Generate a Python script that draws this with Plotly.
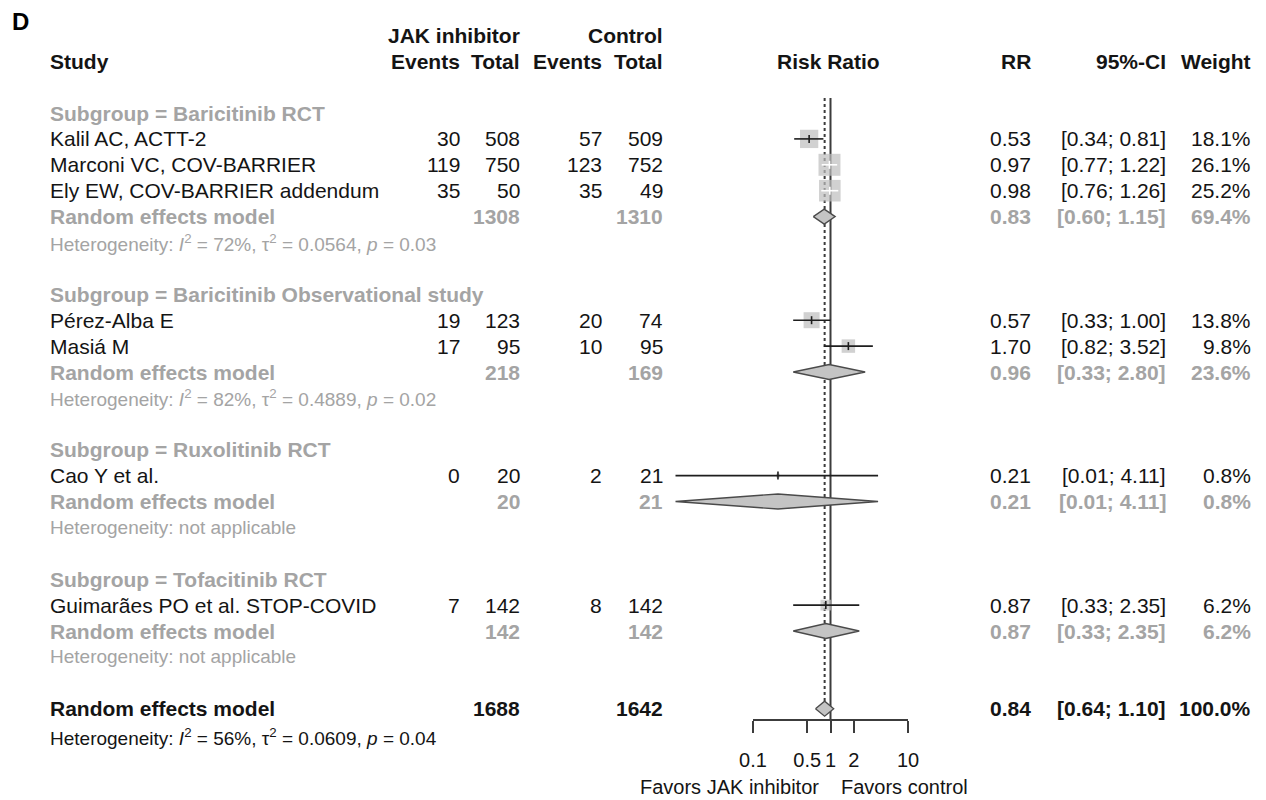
import math
import plotly.graph_objects as go

# ---------------- data ----------------
subgroup_names = ["Baricitinib RCT", "Baricitinib Observational study", "Ruxolitinib RCT", "Tofacitinib RCT"]
study_names = ["Kalil AC, ACTT-2", "Marconi VC, COV-BARRIER", "Ely EW, COV-BARRIER addendum",
               "Pérez-Alba E", "Masiá M", "Cao Y et al.", "Guimarães PO et al. STOP-COVID"]
study_group = [0, 0, 0, 1, 1, 2, 3]
jak_events = [30, 119, 35, 19, 17, 0, 7]
jak_total = [508, 750, 50, 123, 95, 20, 142]
ctl_events = [57, 123, 35, 20, 10, 2, 8]
ctl_total = [509, 752, 49, 74, 95, 21, 142]
study_rr = [0.53, 0.97, 0.98, 0.57, 1.70, 0.21, 0.87]
study_lo = [0.34, 0.77, 0.76, 0.33, 0.82, 0.01, 0.33]
study_hi = [0.81, 1.22, 1.26, 1.00, 3.52, 4.11, 2.35]
study_weight = [18.1, 26.1, 25.2, 13.8, 9.8, 0.8, 6.2]

sub_jak_total = [1308, 218, 20, 142]
sub_ctl_total = [1310, 169, 21, 142]
sub_rr = [0.83, 0.96, 0.21, 0.87]
sub_lo = [0.60, 0.33, 0.01, 0.33]
sub_hi = [1.15, 2.80, 4.11, 2.35]
sub_weight = [69.4, 23.6, 0.8, 6.2]
sub_i2 = ["72%", "82%", None, None]
sub_tau2 = ["0.0564", "0.4889", None, None]
sub_p = ["0.03", "0.02", None, None]

overall_jak_total = 1688
overall_ctl_total = 1642
overall_rr = 0.84
overall_lo = 0.64
overall_hi = 1.10
overall_weight = 100.0
overall_i2 = "56%"
overall_tau2 = "0.0609"
overall_p = "0.04"

axis_ticks = [0.1, 0.5, 1, 2, 10]
axis_ticktext = ["0.1", "0.5", "1", "2", "10"]

# ---------------- layout constants ----------------
W, H = 1266, 800
ROW0_PX, ROW_PX = 113.0, 25.9
ONE_PX, DEC_PX = 830.5, 77.5
FONT = "Liberation Sans, Arial, sans-serif"
BLACK = "#141414"
GRAY = "#a4a4a4"
FS = 21
FS_HET = 19

COL_STUDY = 48
COL_JEV, COL_JTOT, COL_CEV, COL_CTOT = 462, 522, 604, 665
COL_RR, COL_CI, COL_W = 1033, 1168, 1253

annotations = []


def txt(px, row, text, anchor="right", color=BLACK, size=FS, bold=False, yref="y"):
    if bold:
        text = "<b>" + text + "</b>"
    annotations.append(dict(x=px / W, xref="paper", y=row, yref=yref, text=text,
                            xanchor=anchor, yanchor="middle", showarrow=False,
                            font=dict(family=FONT, size=size, color=color)))


def het_text(i2, tau2, p):
    if i2 is None:
        return "Heterogeneity: not applicable"
    return ("Heterogeneity: <i>I</i><sup>2</sup> = " + i2 + ", τ<sup>2</sup> = " + tau2 +
            ", <i>p</i> = " + p)


def ci_text(lo, hi):
    return "[%.2f; %.2f]" % (lo, hi)


# ---------------- build rows ----------------
study_rows = []
diamonds = []  # (row, rr, lo, hi)
row = 0
for g, gname in enumerate(subgroup_names):
    txt(COL_STUDY, row, "Subgroup = " + gname, anchor="left", color=GRAY, bold=True)
    row += 1
    for i in range(len(study_names)):
        if study_group[i] != g:
            continue
        txt(COL_STUDY, row, study_names[i], anchor="left")
        txt(COL_JEV, row, str(jak_events[i]))
        txt(COL_JTOT, row, str(jak_total[i]))
        txt(COL_CEV, row, str(ctl_events[i]))
        txt(COL_CTOT, row, str(ctl_total[i]))
        txt(COL_RR, row, "%.2f" % study_rr[i])
        txt(COL_CI, row, ci_text(study_lo[i], study_hi[i]))
        txt(COL_W, row, "%.1f%%" % study_weight[i])
        study_rows.append((i, row))
        row += 1
    txt(COL_STUDY, row, "Random effects model", anchor="left", color=GRAY, bold=True)
    txt(COL_JTOT, row, str(sub_jak_total[g]), color=GRAY, bold=True)
    txt(COL_CTOT, row, str(sub_ctl_total[g]), color=GRAY, bold=True)
    txt(COL_RR, row, "%.2f" % sub_rr[g], color=GRAY, bold=True)
    txt(COL_CI, row, ci_text(sub_lo[g], sub_hi[g]), color=GRAY, bold=True)
    txt(COL_W, row, "%.1f%%" % sub_weight[g], color=GRAY, bold=True)
    diamonds.append((row, sub_rr[g], sub_lo[g], sub_hi[g]))
    row += 1
    txt(COL_STUDY, row, het_text(sub_i2[g], sub_tau2[g], sub_p[g]), anchor="left",
        color=GRAY, size=FS_HET)
    row += 2

overall_row = row
txt(COL_STUDY, row, "Random effects model", anchor="left", bold=True)
txt(COL_JTOT, row, str(overall_jak_total), bold=True)
txt(COL_CTOT, row, str(overall_ctl_total), bold=True)
txt(COL_RR, row, "%.2f" % overall_rr, bold=True)
txt(COL_CI, row, ci_text(overall_lo, overall_hi), bold=True)
txt(COL_W, row, "%.1f%%" % overall_weight, bold=True)
diamonds.append((row, overall_rr, overall_lo, overall_hi))
txt(COL_STUDY, row + 1.09, het_text(overall_i2, overall_tau2, overall_p), anchor="left",
    size=FS_HET)

# headers
txt(COL_JTOT, -3, "JAK inhibitor", bold=True)
txt(COL_CTOT, -3, "Control", bold=True)
txt(COL_STUDY, -2, "Study", anchor="left", bold=True)
txt(COL_JEV, -2, "Events", bold=True)
txt(COL_JTOT, -2, "Total", bold=True)
txt(COL_CEV, -2, "Events", bold=True)
txt(COL_CTOT, -2, "Total", bold=True)
txt(828, -2, "Risk Ratio", anchor="center", bold=True)
txt(COL_RR, -2, "RR", bold=True)
txt(COL_CI, -2, "95%-CI", bold=True)
txt(COL_W, -2, "Weight", bold=True)

# panel letter and axis labels
annotations.append(dict(x=10 / W, xref="paper", y=1 - 22 / H, yref="paper", text="<b>D</b>",
                        xanchor="left", yanchor="middle", showarrow=False,
                        font=dict(family=FONT, size=24, color="#000000")))
annotations.append(dict(x=821 / W, xref="paper", y=1 - 787 / H, yref="paper",
                        text="Favors JAK inhibitor", xanchor="right", yanchor="middle",
                        showarrow=False, font=dict(family=FONT, size=20, color=BLACK)))
annotations.append(dict(x=839 / W, xref="paper", y=1 - 787 / H, yref="paper",
                        text="Favors control", xanchor="left", yanchor="middle",
                        showarrow=False, font=dict(family=FONT, size=20, color=BLACK)))

# ---------------- forest traces ----------------
fig = go.Figure()
line_top = (98 - ROW0_PX) / ROW_PX
line_bottom = (720 - ROW0_PX) / ROW_PX
dot_bottom = (716 - ROW0_PX) / ROW_PX

# reference lines (drawn first)
fig.add_trace(go.Scatter(x=[overall_rr, overall_rr], y=[line_top, dot_bottom], mode="lines",
                         line=dict(color="#3c3c3c", width=2, dash="dot"),
                         hoverinfo="skip", showlegend=False))
fig.add_trace(go.Scatter(x=[1, 1], y=[line_top, line_bottom], mode="lines",
                         line=dict(color="#3c3c3c", width=2),
                         hoverinfo="skip", showlegend=False))

# squares
sq_x, sq_y, sq_s = [], [], []
for i, r in study_rows:
    sq_x.append(study_rr[i])
    sq_y.append(r)
    sq_s.append(4.3 * math.sqrt(study_weight[i]))
fig.add_trace(go.Scatter(x=sq_x, y=sq_y, mode="markers",
                         marker=dict(symbol="square", size=sq_s, color="#bdbdbd",
                                     line=dict(width=0)),
                         hoverinfo="skip", showlegend=False))

# CI lines + estimate ticks (white when the CI lies inside the box)
tick_half = 4.0 / ROW_PX
black_x, black_y, white_x, white_y = [], [], [], []
for (i, r), s in zip(study_rows, sq_s):
    hw = s / 2 / DEC_PX
    c = math.log10(study_rr[i])
    inside = math.log10(study_lo[i]) >= c - hw and math.log10(study_hi[i]) <= c + hw
    xs = [study_lo[i], study_hi[i], None, study_rr[i], study_rr[i], None]
    ys = [r, r, None, r - tick_half, r + tick_half, None]
    if inside:
        white_x += xs
        white_y += ys
    else:
        black_x += xs
        black_y += ys
fig.add_trace(go.Scatter(x=black_x, y=black_y, mode="lines",
                         line=dict(color="#1e1e1e", width=1.6),
                         hoverinfo="skip", showlegend=False))
fig.add_trace(go.Scatter(x=white_x, y=white_y, mode="lines",
                         line=dict(color="#ffffff", width=1.6),
                         hoverinfo="skip", showlegend=False))

# diamonds
dh = 7.5 / ROW_PX
dx, dy = [], []
for r, est, lo, hi in diamonds:
    dx += [lo, est, hi, est, lo, None]
    dy += [r, r - dh, r, r + dh, r, None]
fig.add_trace(go.Scatter(x=dx, y=dy, mode="lines", fill="toself", fillcolor="#c4c4c4",
                         line=dict(color="#4a4a4a", width=1.3),
                         hoverinfo="skip", showlegend=False))

# dummy trace so the visible RR axis is created
fig.add_trace(go.Scatter(x=[1], y=[0], xaxis="x2", yaxis="y", mode="markers",
                         marker=dict(opacity=0), hoverinfo="skip", showlegend=False))

x_left_px, x_right_px = 640, 990
fig.update_layout(
    width=W, height=H,
    margin=dict(l=0, r=0, t=0, b=0, pad=0, autoexpand=False),
    paper_bgcolor="white", plot_bgcolor="rgba(0,0,0,0)",
    showlegend=False,
    xaxis=dict(type="log", visible=False,
               domain=[x_left_px / W, x_right_px / W],
               range=[(x_left_px - ONE_PX) / DEC_PX, (x_right_px - ONE_PX) / DEC_PX],
               fixedrange=True),
    xaxis2=dict(type="log", range=[-1, 1],
                domain=[(ONE_PX - DEC_PX) / W, (ONE_PX + DEC_PX) / W],
                anchor="free", position=1 - 720 / H, automargin=False,
                showline=True, linecolor="#3c3c3c", linewidth=1.6,
                ticks="outside", ticklen=12, tickwidth=1.6, tickcolor="#3c3c3c",
                tickvals=axis_ticks, ticktext=axis_ticktext, tickangle=0,
                tickfont=dict(family=FONT, size=20, color=BLACK),
                ticklabelstandoff=10,
                showgrid=False, zeroline=False, fixedrange=True),
    yaxis=dict(visible=False, domain=[0, 1],
               range=[(H - ROW0_PX) / ROW_PX, -ROW0_PX / ROW_PX], fixedrange=True),
    annotations=annotations,
)

fig.write_html("out.html")
